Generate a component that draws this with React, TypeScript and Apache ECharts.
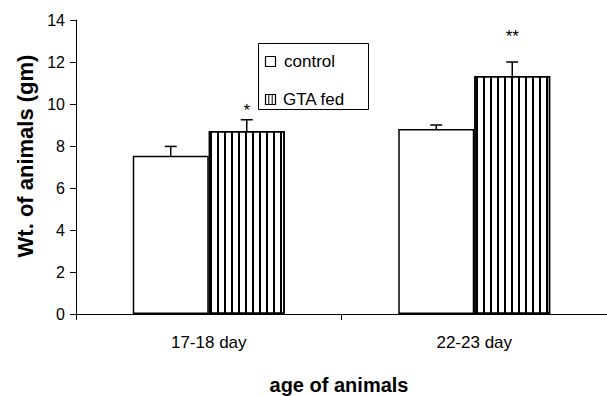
import React, { useEffect, useRef } from "react";
import * as echarts from "echarts";

const categories = ["17-18 day", "22-23 day"];
const controlMean = [7.54, 8.81];
const controlErr = [0.44, 0.19];
const gtaMean = [8.71, 11.33];
const gtaErr = [0.54, 0.67];
const sigMarks = ["*", "**"];
const sigPos = [9.7, 13.2];
const yTicks = { min: 0, max: 14, interval: 2 };

const FONT = "'Liberation Sans', Arial, sans-serif";
const BAR_W = 76;

function errorSeries(name: string, mean: number[], err: number[], offset: number) {
  return {
    type: "custom",
    name,
    z: 5,
    data: mean.map((m, i) => [i, m, m + err[i]]),
    renderItem: (params: any, api: any) => {
      const x = api.value(0);
      const base = api.coord([x, api.value(1)]);
      const top = api.coord([x, api.value(2)]);
      const cx = base[0] + offset;
      return {
        type: "group",
        children: [
          { type: "line", shape: { x1: cx, y1: base[1], x2: cx, y2: top[1] }, style: { stroke: "#000", lineWidth: 1.5 } },
          { type: "line", shape: { x1: cx - 6, y1: top[1], x2: cx + 6, y2: top[1] }, style: { stroke: "#000", lineWidth: 1.5 } },
        ],
      };
    },
  };
}

export default function App() {
  const ref = useRef<HTMLDivElement>(null);
  useEffect(() => {
    if (!ref.current) return;
    const chart = echarts.init(ref.current, null, { renderer: "svg" });
    chart.setOption({
      animation: false,
      backgroundColor: "#fff",
      textStyle: { fontFamily: FONT, color: "#000" },
      grid: { left: 76, top: 20, width: 534, height: 294 },
      xAxis: {
        type: "category",
        data: categories,
        boundaryGap: true,
        axisLine: { lineStyle: { color: "#000", width: 1 } },
        axisTick: { show: true, length: 6, lineStyle: { color: "#000" } },
        axisLabel: { color: "#000", fontSize: 17, fontFamily: FONT, margin: 20 },
      },
      yAxis: {
        type: "value",
        min: yTicks.min,
        max: yTicks.max,
        interval: yTicks.interval,
        axisLine: { show: true, lineStyle: { color: "#000", width: 1 } },
        axisTick: { show: true, length: 6, lineStyle: { color: "#000" } },
        axisLabel: { color: "#000", fontSize: 16, fontFamily: FONT, margin: 11 },
        splitLine: { show: false },
      },
      series: [
        {
          type: "bar",
          name: "control",
          data: controlMean,
          barWidth: BAR_W,
          barGap: "0%",
          itemStyle: { color: "#fff", borderColor: "#000", borderWidth: 1.5 },
        },
        {
          type: "bar",
          name: "GTA fed",
          data: gtaMean,
          barWidth: BAR_W,
          barGap: "0%",
          itemStyle: {
            color: "#fff",
            borderColor: "#000",
            borderWidth: 1.5,
            decal: {
              symbol: "rect",
              symbolSize: 1,
              symbolKeepAspect: false,
              color: "#000",
              dashArrayX: [1.4, 4.9],
              dashArrayY: [4, 0],
              rotation: 0,
            },
          },
        },
        errorSeries("control err", controlMean, controlErr, -BAR_W / 2),
        errorSeries("GTA err", gtaMean, gtaErr, BAR_W / 2),
        {
          type: "custom",
          name: "significance",
          z: 6,
          data: sigPos.map((v, i) => [i, v]),
          renderItem: (params: any, api: any) => {
            const i = api.value(0);
            const p = api.coord([i, api.value(1)]);
            return {
              type: "text",
              x: p[0] + BAR_W / 2,
              y: p[1],
              style: {
                text: sigMarks[params.dataIndex],
                fontSize: 17,
                fontFamily: FONT,
                fill: "#000",
                align: "center",
                verticalAlign: "middle",
              },
            };
          },
        },
      ],
      graphic: [
        {
          type: "text",
          x: 25,
          y: 156,
          rotation: Math.PI / 2,
          style: {
            text: "Wt. of animals (gm)",
            fontSize: 22,
            fontWeight: "bold",
            fontFamily: FONT,
            fill: "#000",
            align: "center",
            verticalAlign: "middle",
          },
        },
        {
          type: "text",
          x: 339,
          y: 385,
          style: {
            text: "age of animals",
            fontSize: 20,
            fontWeight: "bold",
            fontFamily: FONT,
            fill: "#000",
            align: "center",
            verticalAlign: "middle",
          },
        },
        {
          type: "group",
          children: [
            { type: "rect", shape: { x: 258.5, y: 43.5, width: 110, height: 66 }, style: { fill: "#fff", stroke: "#000", lineWidth: 1 } },
            { type: "rect", shape: { x: 265.5, y: 56.5, width: 10, height: 10 }, style: { fill: "#fff", stroke: "#000", lineWidth: 1.2 } },
            { type: "text", x: 284, y: 61, style: { text: "control", fontSize: 17, fontFamily: FONT, fill: "#000", verticalAlign: "middle" } },
            { type: "rect", shape: { x: 265.5, y: 94.5, width: 10, height: 10 }, style: { fill: "#fff", stroke: "#000", lineWidth: 1.2 } },
            { type: "line", shape: { x1: 268.8, y1: 94.5, x2: 268.8, y2: 104.5 }, style: { stroke: "#000", lineWidth: 1 } },
            { type: "line", shape: { x1: 272.2, y1: 94.5, x2: 272.2, y2: 104.5 }, style: { stroke: "#000", lineWidth: 1 } },
            { type: "text", x: 283, y: 99, style: { text: "GTA fed", fontSize: 17, fontFamily: FONT, fill: "#000", verticalAlign: "middle" } },
          ],
        },
      ],
    });
    return () => chart.dispose();
  }, []);
  return <div ref={ref} style={{ position: "fixed", left: 0, top: 0, width: 607, height: 396 }} />;
}
